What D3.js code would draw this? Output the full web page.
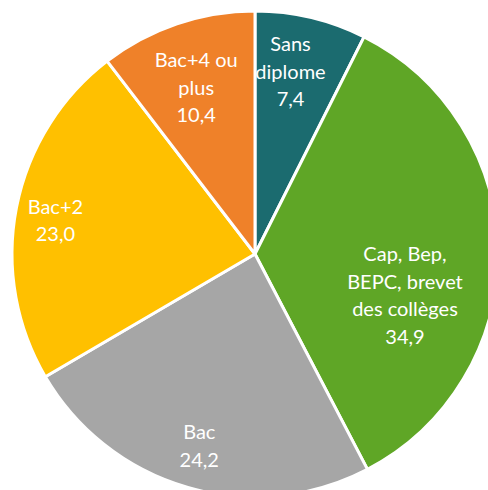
<!DOCTYPE html>
<html>
<head>
<meta charset="utf-8">
<title>Diplômes</title>
<style>
  body { margin: 0; background: #fff; }
  svg { display: block; }
</style>
</head>
<body>
<svg width="488" height="490"></svg>
<script src="https://d3js.org/d3.v7.min.js"></script>
<script>
  // data
  const categories = ["Sans diplome", "Cap, Bep, BEPC, brevet des collèges", "Bac", "Bac+2", "Bac+4 ou plus"];
  const values = [7.4, 34.9, 24.2, 23.0, 10.4];
  const labelLines = [
    ["Sans", "diplome"],
    ["Cap, Bep,", "BEPC, brevet", "des collèges"],
    ["Bac"],
    ["Bac+2"],
    ["Bac+4 ou", "plus"]
  ];

  const colors = ["#1b6b6f", "#5fa626", "#a6a6a6", "#ffc000", "#ef8129"];
  // small nudges so labels sit where the original put them
  const nudge = [[-6, -7], [-30, 43], [-6, 19], [-23, 1], [-1, 4]];

  const svg = d3.select("svg");
  const cx = 255, cy = 254, r = 243;

  const pie = d3.pie().sort(null).value(d => d);
  const arcs = pie(values);

  const arc = d3.arc().innerRadius(0).outerRadius(r);
  const labelArc = d3.arc().innerRadius(180).outerRadius(180);

  const g = svg.append("g").attr("transform", `translate(${cx},${cy})`);

  g.selectAll("path")
    .data(arcs)
    .enter().append("path")
    .attr("d", arc)
    .attr("fill", (d, i) => colors[i])
    .attr("stroke", "#fff")
    .attr("stroke-width", 3)
    .attr("stroke-linejoin", "round");

  const fmt = v => v.toFixed(1).replace(".", ",");
  const lineH = 27.5;

  const labels = g.selectAll("text.lbl")
    .data(arcs)
    .enter().append("text")
    .attr("class", "lbl")
    .attr("text-anchor", "middle")
    .attr("fill", "#fff")
    .style("font-family", "Lato, 'Noto Sans', sans-serif")
    .style("font-size", "20px")
    .each(function(d, i) {
      const lines = labelLines[i].concat([fmt(values[i])]);
      const c = labelArc.centroid(d);
      const x = c[0] + nudge[i][0];
      const y0 = c[1] + nudge[i][1] - (lines.length - 1) * lineH / 2;
      const t = d3.select(this);
      lines.forEach((s, k) => {
        t.append("tspan")
          .attr("x", x)
          .attr("y", y0 + k * lineH)
          .attr("dy", "0.35em")
          .text(s);
      });
    });
</script>
</body>
</html>
